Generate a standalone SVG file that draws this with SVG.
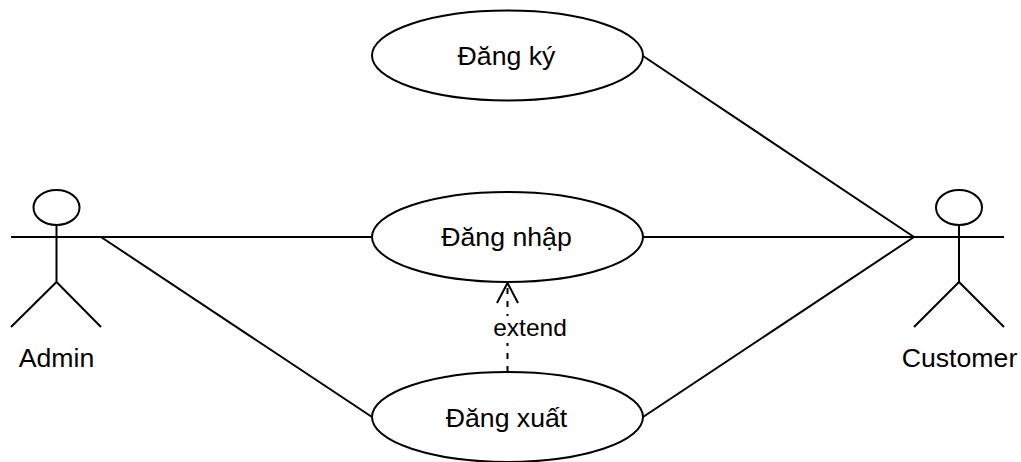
<svg xmlns="http://www.w3.org/2000/svg" width="1021" height="462" viewBox="0 0 1021 462">
<style>
.s{fill:#fff;stroke:#000;stroke-width:2}
.l{fill:none;stroke:#000;stroke-width:2}
text{font-family:"Liberation Sans",Arial,sans-serif;font-size:26.670px;fill:#000;text-anchor:middle}
</style>
<defs><marker id="open" markerUnits="userSpaceOnUse" markerWidth="26" markerHeight="26" refX="22" refY="12.500" orient="auto"><path d="M2 2L22 12.500L2 23" fill="none" stroke="#000" stroke-width="2"/></marker></defs>
<rect width="1021" height="462" fill="#fff"/>
<g id="connectors">
<path class="l" d="M643 56L914 237"/>
<path class="l" d="M643 237H914"/>
<path class="l" d="M643 417L914 237"/>
<path class="l" d="M101 237H372"/>
<path class="l" d="M101 237L372 417"/>
<path class="l" d="M507.500 372V283" stroke-dasharray="6 7" marker-end="url(#open)"/>
</g>
<g id="dangky"><ellipse class="s" cx="507.500" cy="55.500" rx="135.500" ry="45"/><text x="506.500" y="65">Đăng ký</text></g>
<g id="dangnhap"><ellipse class="s" cx="507.500" cy="237" rx="135.500" ry="45"/><text x="506.500" y="246">Đăng nhập</text></g>
<g id="dangxuat"><ellipse class="s" cx="507.500" cy="417" rx="135.500" ry="45"/><text x="506.500" y="427">Đăng xuất</text></g>
<g id="extend"><rect x="492" y="316" width="78" height="27" fill="#fff"/><text x="530" y="336" style="font-size:24.500px">extend</text></g>
<g id="admin"><ellipse class="s" cx="56.500" cy="207.500" rx="23" ry="17.500"/><path class="l" d="M56.500 225V282M11 237H101M56.500 282L11 327M56.500 282L101 327"/><text x="56.500" y="367">Admin</text></g>
<g id="customer"><ellipse class="s" cx="959" cy="207.500" rx="23" ry="17.500"/><path class="l" d="M959 225V282M914 237H1004M959 282L914 327M959 282L1004 327"/><text x="959.500" y="367">Customer</text></g>
</svg>
